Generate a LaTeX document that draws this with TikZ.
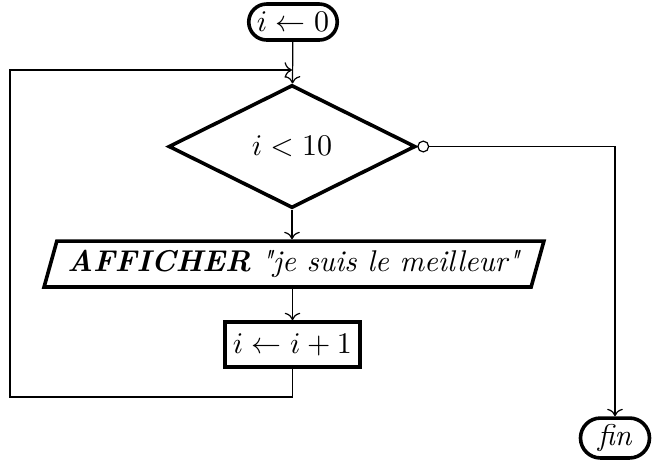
\documentclass[tikz,border=0pt]{standalone}
\usepackage{fontspec}
\usetikzlibrary{shapes.geometric,shapes.misc,arrows.meta}
\begin{document}
\begin{tikzpicture}[x=0.3333pt,y=-0.3333pt,
  shape border/.style={draw,line width=1.2pt},
  terminal/.style={shape border,rounded rectangle,inner sep=1pt},
  decision/.style={shape border,diamond,inner sep=0pt},
  iobox/.style={shape border,trapezium,trapezium left angle=66,trapezium right angle=114,trapezium stretches=true,inner sep=0pt},
  process/.style={shape border,rectangle,inner sep=0pt},
  flow/.style={line width=0.4pt,-{To}}]
\useasboundingbox (0,0) rectangle (657,461);

\node[terminal,minimum width=31.5pt,minimum height=12pt] (start) at (293,22) {$i \leftarrow 0$};
\node[decision,minimum width=82.3pt,minimum height=41pt] (test) at (292,146.5) {$i < 10$};
\node[iobox,minimum width=167pt,minimum height=15.3pt] (show) at (294,264) {\textbf{\textit{AFFICHER}} \textit{\textquotedbl je suis le meilleur\textquotedbl}};
\node[process,minimum width=45pt,minimum height=15pt] (incr) at (292.5,344.5) {$i \leftarrow i+1$};
\node[terminal,minimum width=25pt,minimum height=13.3pt] (end) at (615,438) {\textit{fin}};

\coordinate (loopin) at (292,70);
\coordinate (loopbl) at (10,397);

\draw[flow] (start) -- (test);
\draw[flow] (test.south) -- (test.south |- show.north);
\draw[flow] (incr.north |- show.south) -- (incr.north);
\draw[flow] (incr.south) |- (loopbl) |- (loopin);
\draw[line width=0.4pt,{Circle[open,length=4pt]}-{To}] (test.east) -| (end.north);
\end{tikzpicture}
\end{document}
